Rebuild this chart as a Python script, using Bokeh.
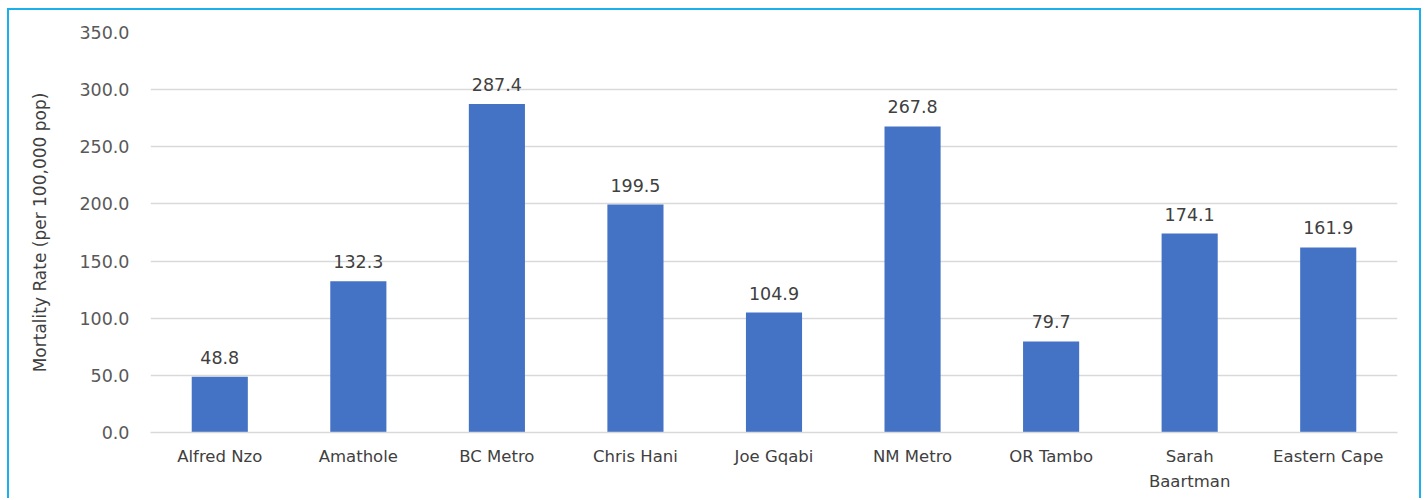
from bokeh.plotting import figure
from bokeh.models import (ColumnDataSource, Range1d, NumeralTickFormatter, FixedTicker,
                          LabelSet, LinearAxis)
from bokeh.core.properties import value
from bokeh.embed import file_html
from bokeh.resources import INLINE

districts = ["Alfred Nzo", "Amathole", "BC Metro", "Chris Hani", "Joe Gqabi",
             "NM Metro", "OR Tambo", "Sarah Baartman", "Eastern Cape"]
label_line1 = ["Alfred Nzo", "Amathole", "BC Metro", "Chris Hani", "Joe Gqabi",
               "NM Metro", "OR Tambo", "Sarah", "Eastern Cape"]
label_line2 = ["", "", "", "", "", "", "", "Baartman", ""]
rates = [48.8, 132.3, 287.4, 199.5, 104.9, 267.8, 79.7, 174.1, 161.9]
y_ticks = [0, 50, 100, 150, 200, 250, 300, 350]
y_label = "Mortality Rate (per 100,000 pop)"

FONT = "DejaVu Sans"

# category slots: district i occupies [i, i+1] on the x scale
pos = [i + 0.5 for i in range(len(districts))]

src = ColumnDataSource(dict(x=pos, name=districts, top=rates,
                            lbl=[f"{v:.1f}" for v in rates]))

p = figure(x_range=Range1d(0, len(districts)), y_range=Range1d(0, 350),
           width=1414, height=490, output_backend="svg", toolbar_location=None,
           min_border_left=141, min_border_right=26, min_border_top=22, min_border_bottom=68)
p.styles = {"margin-left": "7px", "margin-top": "8px",
            "border-top": "2px solid #1CB0EA", "border-left": "2px solid #1CB0EA",
            "border-right": "2px solid #1CB0EA"}
p.outline_line_color = None
p.background_fill_color = "white"
p.border_fill_color = "white"

p.vbar(x="x", top="top", width=0.405, source=src, color="#4472C4", line_color=None)

labels = LabelSet(x="x", y="top", text="lbl", source=src, text_align="center",
                  text_baseline="bottom", y_offset=13, text_font=value(FONT),
                  text_font_size="17.5px", text_color="#404040")
p.add_layout(labels)

p.xgrid.grid_line_color = None
p.ygrid.grid_line_color = "#D9D9D9"
p.ygrid.grid_line_width = 1.5
p.yaxis.ticker = FixedTicker(ticks=y_ticks)
p.yaxis.formatter = NumeralTickFormatter(format="0.0")

p.yaxis.axis_line_color = None
p.yaxis.major_tick_line_color = None
p.yaxis.minor_tick_line_color = None
p.yaxis.major_tick_out = 0
p.yaxis.major_label_standoff = 21
p.yaxis.major_label_text_font = FONT
p.yaxis.major_label_text_font_size = "17.5px"
p.yaxis.major_label_text_color = "#595959"
p.yaxis.axis_label = y_label
p.yaxis.axis_label_text_font = FONT
p.yaxis.axis_label_text_font_size = "17px"
p.yaxis.axis_label_text_font_style = "normal"
p.yaxis.axis_label_text_color = "#404040"
p.yaxis.axis_label_standoff = 26


def style_label_axis(ax, lines, standoff, show_line):
    ticks = [x for x, t in zip(pos, lines) if t]
    ax.ticker = FixedTicker(ticks=ticks, minor_ticks=[])
    ax.major_label_overrides = {x: t for x, t in zip(pos, lines) if t}
    ax.axis_line_color = "#D9D9D9" if show_line else None
    ax.axis_line_width = 1.5
    ax.major_tick_line_color = None
    ax.minor_tick_line_color = None
    ax.major_tick_out = 0
    ax.major_tick_in = 0
    ax.minor_tick_out = 0
    ax.minor_tick_in = 0
    ax.major_label_standoff = standoff
    ax.major_label_text_font = FONT
    ax.major_label_text_font_size = "16.5px"
    ax.major_label_text_color = "#404040"


# first line of the district names on the main x axis
style_label_axis(p.xaxis[0], label_line1, 14, True)

# second line ("Baartman") on an extra axis directly beneath
ax2 = LinearAxis()
style_label_axis(ax2, label_line2, 3, False)
p.add_layout(ax2, "below")

open("out.html", "w").write(file_html(p, INLINE))
